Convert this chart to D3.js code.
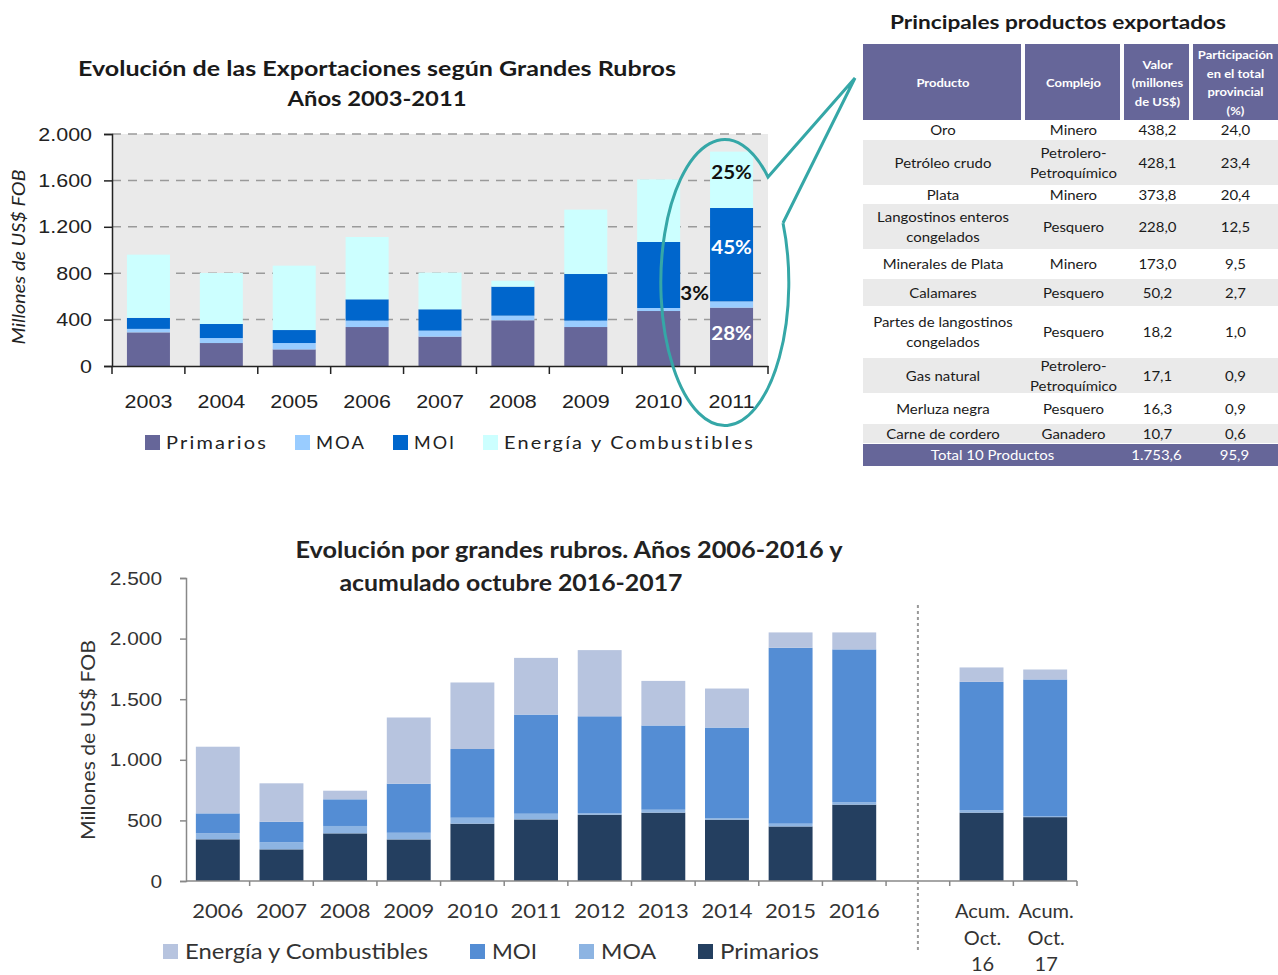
<!DOCTYPE html>
<html><head><meta charset="utf-8">
<script src="https://cdn.jsdelivr.net/npm/d3@7"></script>
<style>
body{margin:0;background:#fff;}
svg{display:block;font-family:Lato,'Open Sans',sans-serif;}
</style>
</head><body>
<svg id="c" width="1278" height="975"></svg>
<script>
// ---------- Top chart data (2003-2011) ----------
const years1 = ["2003","2004","2005","2006","2007","2008","2009","2010","2011"];
const primarios1 = [290,198,143,336,253,394,336,474,503];
const moa1       = [30,43,55,55,52,40,55,26,54];
const moi1       = [95,121,112,184,184,250,402,569,805];
const energia1   = [545,440,555,537,316,51,555,540,486];
const ticks1 = [0,400,800,1200,1600,2000];
const series1 = ["Primarios","MOA","MOI","Energía y Combustibles"];
const labels2011 = [{serie:"Energía y Combustibles",text:"25%"},{serie:"MOI",text:"45%"},{serie:"MOA",text:"3%"},{serie:"Primarios",text:"28%"}];

// ---------- Table data ----------
const productos = [["Oro"],["Petróleo crudo"],["Plata"],["Langostinos enteros","congelados"],["Minerales de Plata"],["Calamares"],["Partes de langostinos","congelados"],["Gas natural"],["Merluza negra"],["Carne de cordero"]];
const complejos = [["Minero"],["Petrolero-","Petroquímico"],["Minero"],["Pesquero"],["Minero"],["Pesquero"],["Pesquero"],["Petrolero-","Petroquímico"],["Pesquero"],["Ganadero"]];
const valores = ["438,2","428,1","373,8","228,0","173,0","50,2","18,2","17,1","16,3","10,7"];
const participacion = ["24,0","23,4","20,4","12,5","9,5","2,7","1,0","0,9","0,9","0,6"];
const totalRow = ["Total 10 Productos","1.753,6","95,9"];
const headers = [["Producto"],["Complejo"],["Valor","(millones","de US$)"],["Participación","en el total","provincial","(%)"]];

// ---------- Bottom chart data (2006-2016 + acumulado) ----------
const cats2 = ["2006","2007","2008","2009","2010","2011","2012","2013","2014","2015","2016","","Acum. Oct. 16","Acum. Oct. 17"];
const primarios2 = [344,261,393,343,473,508,547,564,506,450,630,null,564,527];
const moa2       = [49,58,61,55,49,47,13,24,13,23,19,null,19,6];
const moi2       = [165,170,220,405,567,818,799,695,747,1451,1262,null,1060,1130];
const energia2   = [550,317,71,546,549,468,546,368,322,127,140,null,119,82];
const ticks2 = [0,500,1000,1500,2000,2500];
const legend2 = ["Energía y Combustibles","MOI","MOA","Primarios"];

const loc = d3.formatLocale({decimal:",",thousands:".",grouping:[3],currency:["$",""]});
const fmt = loc.format(",");
const svg = d3.select("#c");

// helpers to widen text (reference font renders wider)
function widen(sel,f){ sel.each(function(){ const w=this.getComputedTextLength(); if(w>0){ d3.select(this).attr("textLength",w*f).attr("lengthAdjust","spacingAndGlyphs"); } }); return sel; }
function fit(sel,len){ sel.attr("textLength",len).attr("lengthAdjust","spacingAndGlyphs"); return sel; }

// ================= TOP CHART =================
(function(){
  const colors = {"Primarios":"#666699","MOA":"#99CCFF","MOI":"#0066CC","Energía y Combustibles":"#CCFFFF"};
  const L=112,R=768,T=134,B=366;
  const x = d3.scaleBand().domain(years1).range([L,R]);
  const y = d3.scaleLinear().domain([0,2000]).range([B,T]);
  const g = svg.append("g");
  g.append("rect").attr("x",L).attr("y",T).attr("width",R-L).attr("height",B-T).attr("fill","#EAEAEA");
  g.selectAll("line.grid").data(ticks1.filter(d=>d>0)).join("line")
    .attr("x1",L).attr("x2",R).attr("y1",d=>y(d)).attr("y2",d=>y(d))
    .attr("stroke","#9a9a9a").attr("stroke-width",1.5).attr("stroke-dasharray","9,7");
  const rows = years1.map((yr,i)=>({yr,"Primarios":primarios1[i],"MOA":moa1[i],"MOI":moi1[i],"Energía y Combustibles":energia1[i]}));
  const stack = d3.stack().keys(series1)(rows);
  const bw = x.bandwidth()*0.59;
  g.selectAll("g.s").data(stack).join("g").attr("fill",d=>colors[d.key])
    .selectAll("rect").data(d=>d).join("rect")
    .attr("x",d=>x(d.data.yr)+(x.bandwidth()-bw)/2).attr("width",bw)
    .attr("y",d=>y(d[1])).attr("height",d=>y(d[0])-y(d[1]));
  // axes
  const ya = g.append("g").attr("transform",`translate(${L},0)`)
    .call(d3.axisLeft(y).tickValues(ticks1).tickFormat(fmt).tickSize(8).tickPadding(12));
  ya.selectAll("text").attr("font-size",19).attr("fill","#222");
  widen(ya.selectAll("text"),1.13);
  ya.selectAll("line,path").attr("stroke","#222").attr("stroke-width",1.5);
  const xa = g.append("g").attr("transform",`translate(0,${B})`)
    .call(d3.axisBottom(x).tickSize(0).tickPadding(29));
  xa.selectAll("text").attr("font-size",19).attr("fill","#222");
  widen(xa.selectAll("text"),1.13);
  xa.select("path").attr("stroke","#222").attr("stroke-width",1.5);
  const bounds = years1.map(d=>x(d)).concat([R]);
  g.selectAll("line.xt").data(bounds).join("line")
    .attr("x1",d=>d).attr("x2",d=>d).attr("y1",B).attr("y2",B+8).attr("stroke","#222").attr("stroke-width",1.5);
  // y label
  fit(g.append("text").attr("transform","translate(25,257) rotate(-90)").attr("text-anchor","middle")
    .attr("font-size",17).attr("font-style","italic").attr("fill","#222").text("Millones de US$ FOB"),175);
  // title
  fit(g.append("text").attr("x",377).attr("y",76).attr("text-anchor","middle").attr("font-size",20.5).attr("font-weight","bold").attr("fill","#1a1a1a")
    .text("Evolución de las Exportaciones según Grandes Rubros"),598);
  fit(g.append("text").attr("x",377).attr("y",106).attr("text-anchor","middle").attr("font-size",20.5).attr("font-weight","bold").attr("fill","#1a1a1a")
    .text("Años 2003-2011"),179);
  // 2011 labels
  const last = stack.map(s=>({key:s.key,seg:s[s.length-1]}));
  const cx = x("2011")+x.bandwidth()/2;
  labels2011.forEach(l=>{
    const s = last.find(d=>d.key===l.serie).seg;
    const t = g.append("text").attr("font-size",19).attr("font-weight","bold");
    if(l.serie==="MOA"){
      t.attr("x",x("2011")+(x.bandwidth()-bw)/2-1).attr("y",y(s[1])-1).attr("text-anchor","end").attr("fill","#111").text(l.text);
    } else {
      const my=(y(s[0])+y(s[1]))/2;
      const dy = l.serie==="Energía y Combustibles"?-7:(l.serie==="MOI"?-7:-3);
      t.attr("x",cx).attr("y",my+dy+6).attr("text-anchor","middle")
       .attr("fill",l.serie==="Energía y Combustibles"?"#111":"#fff").text(l.text);
    }
    widen(t,1.08);
  });
  // callout ellipse
  g.append("path").attr("d","M783,223 A64,143 0 1 1 768,177 L855,78 L783,223")
    .attr("fill","none").attr("stroke","#35A7A7").attr("stroke-width",3).attr("stroke-linejoin","miter");
  // legend
  const legW = [102,50,42,251];
  let lx = 145;
  series1.forEach((s,i)=>{
    g.append("rect").attr("x",lx).attr("y",435).attr("width",15).attr("height",15).attr("fill",colors[s]);
    fit(g.append("text").attr("x",lx+21).attr("y",449).attr("font-size",18).attr("letter-spacing","2px").attr("fill","#222").text(s),legW[i]);
    lx = lx+21+legW[i]+27;
  });
})();

// ================= TABLE =================
(function(){
  const g = svg.append("g");
  const purple = "#666699";
  const cols = [863,1023,1122,1191,1278];
  const colC = cols.slice(0,4).map((c,i)=>(c+cols[i+1])/2);
  fit(g.append("text").attr("x",1058).attr("y",29).attr("text-anchor","middle").attr("font-size",19).attr("font-weight","bold").attr("fill","#1a1a1a")
    .text("Principales productos exportados"),336);
  const hT=44,hB=121;
  headers.forEach((h,i)=>{
    g.append("rect").attr("x",cols[i]+(i?2:0)).attr("y",hT).attr("width",cols[i+1]-cols[i]-(i?2:0)-(i<3?2:0)).attr("height",hB-hT-1).attr("fill",purple);
    const n=h.length, lh=18.5;
    h.forEach((ln,k)=>{
      const t=g.append("text").attr("x",colC[i]+(i?1:0)).attr("y",(hT+hB)/2+(k-(n-1)/2)*lh+4.5).attr("text-anchor","middle")
        .attr("font-size",12).attr("font-weight","bold").attr("fill","#fff").text(ln);
      widen(t,1.08);
    });
  });
  const rowH = [18,47,17,47,28,29,50,37,29,21];
  let yy = hB;
  productos.forEach((p,i)=>{
    const h=rowH[i];
    if(i%2===1) g.append("rect").attr("x",cols[0]).attr("y",yy+1).attr("width",cols[4]-cols[0]).attr("height",h-2).attr("fill","#EAEAEA");
    const cells=[p,complejos[i],[valores[i]],[participacion[i]]];
    cells.forEach((c,j)=>{
      c.forEach((ln,k)=>{
        const t=g.append("text").attr("x",colC[j]+(j?1:0)).attr("y",yy+h/2+(k-(c.length-1)/2)*20+5).attr("text-anchor","middle")
          .attr("font-size",13).attr("fill","#1a1a1a").text(ln);
        widen(t,1.15);
      });
    });
    yy+=h;
  });
  g.append("rect").attr("x",cols[0]).attr("y",yy).attr("width",cols[4]-cols[0]).attr("height",22).attr("fill",purple);
  const tt=[[ (cols[0]+cols[2])/2, totalRow[0]],[colC[2],totalRow[1]],[colC[3],totalRow[2]]];
  tt.forEach(d=>widen(g.append("text").attr("x",d[0]).attr("y",yy+16).attr("text-anchor","middle").attr("font-size",13).attr("fill","#fff").text(d[1]),1.15));
})();

// ================= BOTTOM CHART =================
(function(){
  const colors = {"Primarios":"#243F60","MOA":"#8DB4E2","MOI":"#548DD4","Energía y Combustibles":"#B7C4DF"};
  const L=186,R=1077,T=578,B=881;
  const x = d3.scaleBand().domain(cats2).range([L,R]);
  const y = d3.scaleLinear().domain([0,2500]).range([B,T]);
  const g = svg.append("g");
  const rows = cats2.map((c,i)=>({c,"Primarios":primarios2[i]||0,"MOA":moa2[i]||0,"MOI":moi2[i]||0,"Energía y Combustibles":energia2[i]||0})).filter(d=>d.c!=="");
  const keys = ["Primarios","MOA","MOI","Energía y Combustibles"];
  const stack = d3.stack().keys(keys)(rows);
  const bw = x.bandwidth()*0.69;
  g.selectAll("g.s").data(stack).join("g").attr("fill",d=>colors[d.key])
    .selectAll("rect").data(d=>d).join("rect")
    .attr("x",d=>x(d.data.c)+(x.bandwidth()-bw)/2).attr("width",bw)
    .attr("y",d=>y(d[1])).attr("height",d=>y(d[0])-y(d[1]));
  const ya = g.append("g").attr("transform",`translate(${L},0)`)
    .call(d3.axisLeft(y).tickValues(ticks2).tickFormat(fmt).tickSize(6).tickPadding(18));
  ya.selectAll("text").attr("font-size",19).attr("fill","#333");
  widen(ya.selectAll("text"),1.1);
  ya.selectAll("line,path").attr("stroke","#888").attr("stroke-width",1.5);
  g.append("line").attr("x1",L).attr("x2",R).attr("y1",B).attr("y2",B).attr("stroke","#888").attr("stroke-width",1.5);
  const bounds = cats2.map(d=>x(d)).concat([R]).slice(1);
  g.selectAll("line.xt").data(bounds).join("line")
    .attr("x1",d=>d).attr("x2",d=>d).attr("y1",B).attr("y2",B+5).attr("stroke","#888").attr("stroke-width",1.5);
  // separator
  const sepX = x("")+x.bandwidth()/2;
  g.append("line").attr("x1",sepX).attr("x2",sepX).attr("y1",605).attr("y2",950)
    .attr("stroke","#999").attr("stroke-width",2).attr("stroke-dasharray","3,3");
  // x labels
  cats2.forEach(c=>{
    if(!c) return;
    const cx = x(c)+x.bandwidth()/2;
    const parts = c.startsWith("Acum") ? ["Acum.","Oct.",c.split(" ")[2]] : [c];
    parts.forEach((p,k)=>{
      const t=g.append("text").attr("x",cx+(parts.length>1?1:0)).attr("y",918+k*26.5).attr("text-anchor","middle").attr("font-size",20).attr("fill","#333").text(p);
      widen(t,parts.length>1?1.0:1.1);
    });
  });
  // y label
  fit(g.append("text").attr("transform","translate(95,740) rotate(-90)").attr("text-anchor","middle")
    .attr("font-size",19).attr("fill","#333").text("Millones de US$ FOB"),200);
  // title
  fit(g.append("text").attr("x",569).attr("y",558).attr("text-anchor","middle").attr("font-size",22.5).attr("font-weight","bold").attr("fill","#222")
    .text("Evolución por grandes rubros. Años 2006-2016 y"),547);
  fit(g.append("text").attr("x",511).attr("y",591).attr("text-anchor","middle").attr("font-size",22.5).attr("font-weight","bold").attr("fill","#222")
    .text("acumulado octubre 2016-2017"),343);
  // legend
  const legW=[243,45,55,99];
  let lx = 163;
  legend2.forEach((s,i)=>{
    g.append("rect").attr("x",lx).attr("y",944).attr("width",15).attr("height",15).attr("fill",colors[s]);
    fit(g.append("text").attr("x",lx+22).attr("y",959).attr("font-size",21).attr("fill","#333").text(s),legW[i]);
    lx = lx+22+legW[i]+42;
  });
})();
</script>
</body></html>
